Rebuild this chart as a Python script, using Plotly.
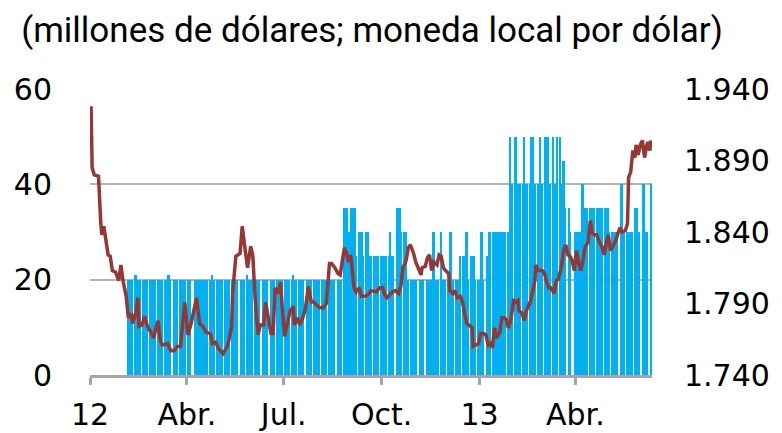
import pandas as pd
import plotly.graph_objects as go

# Exchange rate (local currency per dollar)
fx_dates = [
    "2012-01-02", "2012-01-03", "2012-01-05", "2012-01-09", "2012-01-11", "2012-01-12",
    "2012-01-14", "2012-01-15", "2012-01-18", "2012-01-20", "2012-01-22", "2012-01-25",
    "2012-01-28", "2012-01-30", "2012-02-01", "2012-02-04", "2012-02-06", "2012-02-09",
    "2012-02-10", "2012-02-13", "2012-02-15", "2012-02-16", "2012-02-19", "2012-02-21",
    "2012-02-24", "2012-02-27", "2012-03-01", "2012-03-03", "2012-03-05", "2012-03-07",
    "2012-03-09", "2012-03-14", "2012-03-17", "2012-03-20", "2012-03-23", "2012-03-26",
    "2012-03-30", "2012-04-02", "2012-04-05", "2012-04-10", "2012-04-13", "2012-04-16",
    "2012-04-19", "2012-04-23", "2012-04-25", "2012-04-28", "2012-05-01", "2012-05-05",
    "2012-05-09", "2012-05-11", "2012-05-13", "2012-05-14", "2012-05-17", "2012-05-21",
    "2012-05-23", "2012-05-25", "2012-05-28", "2012-05-31", "2012-06-02", "2012-06-04",
    "2012-06-07", "2012-06-09", "2012-06-12", "2012-06-14", "2012-06-16", "2012-06-19",
    "2012-06-21", "2012-06-23", "2012-06-26", "2012-06-28", "2012-06-30", "2012-07-02",
    "2012-07-05", "2012-07-07", "2012-07-10", "2012-07-11", "2012-07-14", "2012-07-16",
    "2012-07-18", "2012-07-21", "2012-07-23", "2012-07-24", "2012-07-27", "2012-07-29",
    "2012-08-01", "2012-08-04", "2012-08-07", "2012-08-10", "2012-08-13", "2012-08-15",
    "2012-08-18", "2012-08-21", "2012-08-23", "2012-08-25", "2012-08-27", "2012-08-29",
    "2012-08-31", "2012-09-02", "2012-09-05", "2012-09-07", "2012-09-10", "2012-09-12",
    "2012-09-15", "2012-09-18", "2012-09-21", "2012-09-26", "2012-09-29", "2012-10-02",
    "2012-10-04", "2012-10-06", "2012-10-09", "2012-10-11", "2012-10-14", "2012-10-17",
    "2012-10-19", "2012-10-21", "2012-10-24", "2012-10-26", "2012-10-28", "2012-10-31",
    "2012-11-02", "2012-11-04", "2012-11-07", "2012-11-08", "2012-11-11", "2012-11-13",
    "2012-11-15", "2012-11-17", "2012-11-19", "2012-11-22", "2012-11-24", "2012-11-26",
    "2012-11-28", "2012-11-30", "2012-12-03", "2012-12-04", "2012-12-07", "2012-12-09",
    "2012-12-11", "2012-12-14", "2012-12-16", "2012-12-18", "2012-12-20", "2012-12-22",
    "2012-12-25", "2012-12-26", "2012-12-29", "2012-12-31", "2013-01-02", "2013-01-05",
    "2013-01-07", "2013-01-09", "2013-01-11", "2013-01-13", "2013-01-15", "2013-01-17",
    "2013-01-20", "2013-01-22", "2013-01-24", "2013-01-26", "2013-01-28", "2013-01-30",
    "2013-02-02", "2013-02-04", "2013-02-06", "2013-02-07", "2013-02-10", "2013-02-12",
    "2013-02-14", "2013-02-16", "2013-02-18", "2013-02-20", "2013-02-22", "2013-02-23",
    "2013-02-25", "2013-03-01", "2013-03-03", "2013-03-05", "2013-03-07", "2013-03-09",
    "2013-03-12", "2013-03-14", "2013-03-16", "2013-03-19", "2013-03-21", "2013-03-23",
    "2013-03-25", "2013-03-27", "2013-03-29", "2013-03-31", "2013-04-02", "2013-04-04",
    "2013-04-06", "2013-04-08", "2013-04-10", "2013-04-13", "2013-04-15", "2013-04-17",
    "2013-04-19", "2013-04-21", "2013-04-24", "2013-04-26", "2013-04-28", "2013-04-30",
    "2013-05-02", "2013-05-04", "2013-05-06", "2013-05-09", "2013-05-11", "2013-05-13",
    "2013-05-15", "2013-05-18", "2013-05-20", "2013-05-21", "2013-05-23", "2013-05-25",
    "2013-05-27", "2013-05-28", "2013-05-30", "2013-06-01", "2013-06-03", "2013-06-05",
    "2013-06-07", "2013-06-08", "2013-06-10", "2013-06-11",
]
fx_values = [
    1928, 1885, 1880, 1879, 1848, 1838,
    1844, 1838, 1824, 1823, 1813, 1812,
    1806, 1817, 1806, 1795, 1780, 1783,
    1776, 1783, 1794, 1774, 1775, 1781,
    1774, 1770, 1766, 1773, 1778, 1764,
    1761, 1762, 1757, 1757, 1760, 1760,
    1791, 1768, 1776, 1794, 1776, 1774,
    1770, 1769, 1762, 1763, 1758, 1755,
    1760, 1766, 1774, 1797, 1823, 1825,
    1844, 1832, 1815, 1830, 1823, 1795,
    1768, 1775, 1775, 1791, 1783, 1769,
    1769, 1801, 1797, 1805, 1783, 1767,
    1778, 1785, 1788, 1775, 1780, 1775,
    1778, 1785, 1795, 1802, 1791, 1791,
    1789, 1787, 1787, 1790, 1818, 1818,
    1815, 1811, 1810, 1819, 1829, 1825,
    1819, 1824, 1801, 1798, 1801, 1795,
    1795, 1796, 1799, 1798, 1801, 1801,
    1796, 1794, 1797, 1798, 1799, 1797,
    1802, 1815, 1820, 1829, 1831, 1825,
    1819, 1815, 1810, 1815, 1816, 1822,
    1824, 1813, 1819, 1817, 1824, 1823,
    1815, 1813, 1811, 1799, 1797, 1799,
    1794, 1795, 1791, 1783, 1776, 1775,
    1773, 1760, 1761, 1762, 1769, 1769,
    1768, 1761, 1762, 1759, 1773, 1766,
    1770, 1780, 1780, 1779, 1773, 1777,
    1792, 1791, 1792, 1785, 1783, 1778,
    1785, 1789, 1792, 1799, 1806, 1817,
    1813, 1813, 1811, 1805, 1801, 1801,
    1797, 1806, 1807, 1816, 1827, 1831,
    1824, 1823, 1820, 1813, 1827, 1819,
    1813, 1819, 1829, 1833, 1848, 1839,
    1838, 1838, 1832, 1830, 1824, 1832,
    1838, 1827, 1830, 1834, 1839, 1843,
    1840, 1841, 1846, 1878, 1882, 1897,
    1892, 1901, 1894, 1901, 1904, 1892,
    1900, 1903, 1897, 1904,
]

# Daily dollar purchases (millions), one row per week Mon-Fri from 6 Feb 2012, None = holiday
purchases_start = "2012-02-06"
purchases = [
    20, 20, 20, 20, 20,  21, 20, 20, 20, 20,  20, 20, 20, 20, 20,
    20, 20, 20, 20, 20,  20, 20, 20, 20, 20,  20, 20, 20, 21, 20,
    None, 20, 20, 20, 20,  20, 20, 20, 20, 20,  20, 20, 20, None, None,
    20, 20, 20, 20, 20,  20, 20, 20, 20, 20,  20, 20, 21, 20, 20,
    20, None, 20, 20, 20,  20, 20, 20, 20, 20,  20, 20, 20, 20, 20,
    None, 20, 20, 20, 20,  21, 20, 20, 20, 20,  20, 20, 20, 20, 20,
    None, 20, 20, 20, 20,  None, 20, 20, 20, 20,  20, 20, 20, 20, 20,
    None, 20, 20, 20, 20,  20, 21, 20, 20, 20,  20, 20, 20, 20, None,
    20, 20, 20, 20, 20,  20, 20, 20, 20, 20,  20, None, 20, 20, 20,
    20, 20, 20, 20, 20,  None, 20, 20, 20, 20,  35, 35, 35, 35, 30,
    35, 35, 35, 35, 25,  30, 30, 30, 30, 25,  30, 30, 25, 25, 25,
    25, 25, 25, 25, 25,  25, 25, 25, 25, 25,  25, 30, 25, 25, 25,
    None, 35, 35, 35, 30,  30, 30, 30, 20, 20,  20, 20, 20, 20, 20,
    None, 20, 20, 20, 20,  None, 20, 20, 20, 20,  30, 20, 20, 20, 20,
    30, 20, 20, 20, 20,  20, 20, 30, 20, 20,  20, 20, 20, 20, 25,
    25, 25, 25, 30, 20,  25, None, 25, 25, 20,  20, None, 20, 30, 20,
    None, 25, 25, 30, 30,  30, 30, 30, 30, 30,  30, 30, 30, 30, 30,
    30, 30, 50, 40, 40,  50, 40, 40, 40, 40,  40, 50, 40, 40, 40,
    40, 50, 50, 40, 40,  40, 40, 50, 40, 40,  50, 40, 50, 40, 40,
    50, 40, 40, 40, 50,  50, 33, 40, 45, 35,  None, 35, 30, None, None,
    30, 30, 30, 30, 30,  40, 35, 35, 35, 35,  35, 35, 35, 35, 35,
    35, 35, 35, 35, 35,  35, None, 35, 35, 30,  30, 30, 30, 30, 30,
    None, 40, 40, 30, 30,  30, 30, 30, 30, 30,  35, 35, 35, 30, 30,
    None, 40, 40, 30, 30,  None, 40,
]

tick_dates = ["2012-01-01", "2012-04-01", "2012-07-01", "2012-10-01", "2013-01-01", "2013-04-01"]
tick_labels = ["12", "Abr.", "Jul.", "Oct.", "13", "Abr."]
left_ticks = [0, 20, 40, 60]
right_ticks = [1740, 1790, 1840, 1890, 1940]

purchase_dates = pd.bdate_range(purchases_start, periods=len(purchases))
day_ms = 86400000

fig = go.Figure()

fig.add_trace(go.Bar(
    x=purchase_dates,
    y=purchases,
    width=[1.7 * day_ms] * len(purchases),
    marker=dict(color='#00b0f0', line=dict(width=0)),
    name='Compras',
    yaxis='y',
))

fig.add_trace(go.Scatter(
    x=fx_dates,
    y=fx_values,
    mode='lines',
    line=dict(color='#953735', width=3.5),
    name='Tipo de cambio',
    yaxis='y2',
))

tick_font = dict(family='DejaVu Sans', size=30, color='black')

# the page body adds an 8px margin, so the figure is 8px smaller than the window
fig.update_layout(
    width=774,
    height=425,
    margin=dict(l=82, r=130, t=81, b=58),
    paper_bgcolor='white',
    plot_bgcolor='white',
    showlegend=False,
    bargap=0,
    title=dict(
        text='(millones de dólares; moneda local por dólar)',
        font=dict(family='Roboto, sans-serif', size=35, color='black'),
        xref='container', yref='container',
        x=0.017, xanchor='left',
        y=0.948, yanchor='middle',
    ),
    xaxis=dict(
        type='date',
        range=['2012-01-01', '2013-06-12'],
        tickvals=tick_dates,
        ticktext=tick_labels,
        tickfont=tick_font,
        showgrid=False,
        showline=True,
        linecolor='#a6a6a6',
        linewidth=3,
        ticks='outside',
        ticklen=7,
        tickwidth=3,
        tickcolor='#a6a6a6',
        ticklabelstandoff=4,
        automargin=False,
    ),
    yaxis=dict(
        range=[0, 60],
        tickvals=left_ticks,
        tickfont=tick_font,
        showgrid=True,
        gridcolor='#b3b3b3',
        gridwidth=1.5,
        zeroline=False,
        showline=False,
        ticklabelstandoff=37,
        automargin=False,
    ),
    yaxis2=dict(
        range=[1740, 1940],
        overlaying='y',
        side='right',
        tickvals=right_ticks,
        ticktext=[f"{v:,}".replace(",", ".") for v in right_ticks],
        tickfont=tick_font,
        showgrid=False,
        zeroline=False,
        showline=False,
        ticklabelstandoff=31,
        automargin=False,
    ),
)

fig.write_html("out.html")
